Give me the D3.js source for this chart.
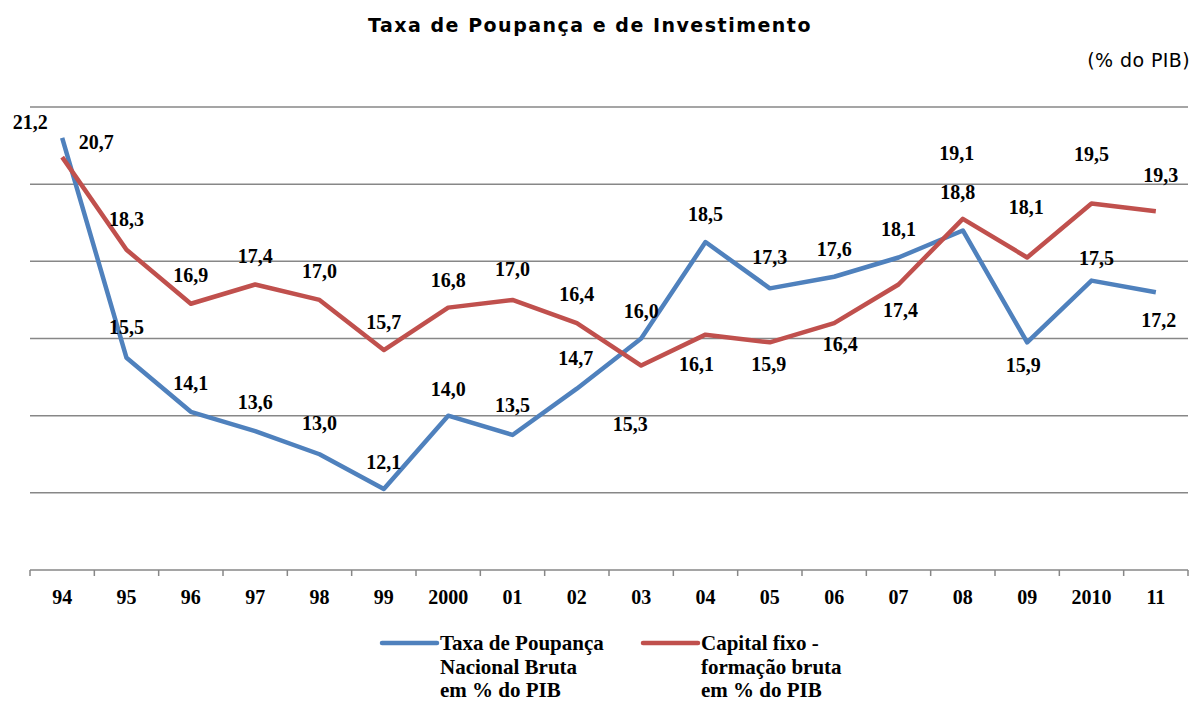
<!DOCTYPE html>
<html lang="pt">
<head>
    <meta charset="UTF-8">
    <title>Taxa de Poupança e de Investimento</title>
    <script src="https://d3js.org/d3.v7.min.js"></script>
    <style>
        body {
            margin: 0;
            background-color: #ffffff;
        }
        .title {
            font-family: "DejaVu Sans", Verdana, sans-serif;
            font-size: 19px;
            font-weight: bold;
            text-anchor: middle;
            letter-spacing: 1.5px;
        }
        .unit {
            font-family: "DejaVu Sans", Verdana, sans-serif;
            font-size: 19px;
            letter-spacing: 0.4px;
            text-anchor: end;
        }
        .label, .tick-label, .legend-text {
            font-family: "Liberation Serif", "Times New Roman", serif;
            font-size: 20px;
            font-weight: bold;
            fill: #000;
        }
        .legend-text {
            font-size: 21px;
        }
        .label, .tick-label {
            text-anchor: middle;
        }
    </style>
</head>
<body>
    <svg id="chart" width="1194" height="702"></svg>
    <script>
        // anos
        const years = ["94", "95", "96", "97", "98", "99", "2000", "01", "02", "03",
                       "04", "05", "06", "07", "08", "09", "2010", "11"];
        // Taxa de Poupança Nacional Bruta (% do PIB)
        const poupanca = [21.2, 15.5, 14.1, 13.6, 13.0, 12.1, 14.0, 13.5, 14.7, 16.0,
                          18.5, 17.3, 17.6, 18.1, 18.8, 15.9, 17.5, 17.2];
        // Capital fixo - formação bruta (% do PIB)
        const capital = [20.7, 18.3, 16.9, 17.4, 17.0, 15.7, 16.8, 17.0, 16.4, 15.3,
                         16.1, 15.9, 16.4, 17.4, 19.1, 18.1, 19.5, 19.3];
        const gridValues = [10, 12, 14, 16, 18, 20, 22];

        // deslocamento do centro de cada rótulo em relação ao ponto (dx, dy em px)
        const poupancaLabelPos = [
            [-32, -16], [0, -31], [0, -29], [0, -29], [0, -31], [0, -27], [0, -27], [0, -30], [-1, -31],
            [0, -28], [0, -28], [0, -31], [0, -28], [0, -28], [-5, -38], [-4, 23], [5, -23], [3, 28]];
        const capitalLabelPos = [
            [34, -15], [0, -31], [0, -29], [0, -28], [0, -29], [0, -28], [0, -28], [0, -31], [0, -29],
            [-11, 58], [-9, 29], [-1, 22], [6, 21], [2, 26], [-6, -66], [-1, -50], [0, -49], [5, -36]];

        const svg = d3.select("#chart");
        const margin = { left: 30, right: 6, top: 107, bottom: 132 };
        const width = 1194 - margin.left - margin.right;
        const height = 702 - margin.top - margin.bottom;

        const g = svg.append("g").attr("transform", `translate(${margin.left},${margin.top})`);

        const x = d3.scaleBand().domain(years).range([0, width]);
        const y = d3.scaleLinear().domain([10, 22]).range([height, 0]);

        svg.append("text").attr("class", "title")
            .attr("x", 590).attr("y", 32)
            .text("Taxa de Poupança e de Investimento");
        svg.append("text").attr("class", "unit")
            .attr("x", 1190).attr("y", 67)
            .text("(% do PIB)");

        // grade
        g.selectAll("line.grid")
            .data(gridValues.slice(1))
            .enter().append("line")
            .attr("class", "grid")
            .attr("x1", 0).attr("x2", width)
            .attr("y1", d => y(d)).attr("y2", d => y(d))
            .attr("stroke", "#878787")
            .attr("stroke-width", 1.5);

        // eixo x
        g.append("line")
            .attr("x1", 0).attr("x2", width)
            .attr("y1", height).attr("y2", height)
            .attr("stroke", "#878787").attr("stroke-width", 1.5);
        const tickPos = years.map(d => x(d)).concat([width]);
        g.selectAll("line.tick")
            .data(tickPos)
            .enter().append("line")
            .attr("class", "tick")
            .attr("x1", d => d).attr("x2", d => d)
            .attr("y1", height).attr("y2", height + 6)
            .attr("stroke", "#878787").attr("stroke-width", 1.5);
        g.selectAll("text.tick-label")
            .data(years)
            .enter().append("text")
            .attr("class", "tick-label")
            .attr("x", d => x(d) + x.bandwidth() / 2)
            .attr("y", height + 34)
            .text(d => d);

        const line = d3.line()
            .x((d, i) => x(years[i]) + x.bandwidth() / 2)
            .y(d => y(d));

        const series = [
            { values: poupanca, color: "#4F81BD", pos: poupancaLabelPos },
            { values: capital, color: "#C0504D", pos: capitalLabelPos }
        ];

        const fmt = v => v.toFixed(1).replace(".", ",");

        series.forEach(s => {
            g.append("path")
                .datum(s.values)
                .attr("fill", "none")
                .attr("stroke", s.color)
                .attr("stroke-width", 4.5)
                .attr("stroke-linejoin", "round")
                .attr("d", line);
        });
        series.forEach(s => {
            g.selectAll(null)
                .data(s.values)
                .enter().append("text")
                .attr("class", "label")
                .attr("x", (d, i) => x(years[i]) + x.bandwidth() / 2 + s.pos[i][0])
                .attr("y", (d, i) => y(d) + s.pos[i][1] + 7)
                .text(d => fmt(d));
        });

        // legenda
        const legend = [
            { color: "#4F81BD", x: 382, lines: ["Taxa de Poupança", "Nacional Bruta", "em % do PIB"] },
            { color: "#C0504D", x: 643, lines: ["Capital fixo -", "formação bruta", "em % do PIB"] }
        ];
        legend.forEach(l => {
            svg.append("line")
                .attr("x1", l.x).attr("x2", l.x + 55)
                .attr("y1", 643).attr("y2", 643)
                .attr("stroke", l.color).attr("stroke-width", 4.5)
                .attr("stroke-linecap", "round");
            const t = svg.append("text").attr("class", "legend-text")
                .attr("x", l.x + 58).attr("y", 650);
            l.lines.forEach((s, i) => {
                t.append("tspan").attr("x", l.x + 58).attr("dy", i === 0 ? 0 : 23.5).text(s);
            });
        });
    </script>
</body>
</html>
